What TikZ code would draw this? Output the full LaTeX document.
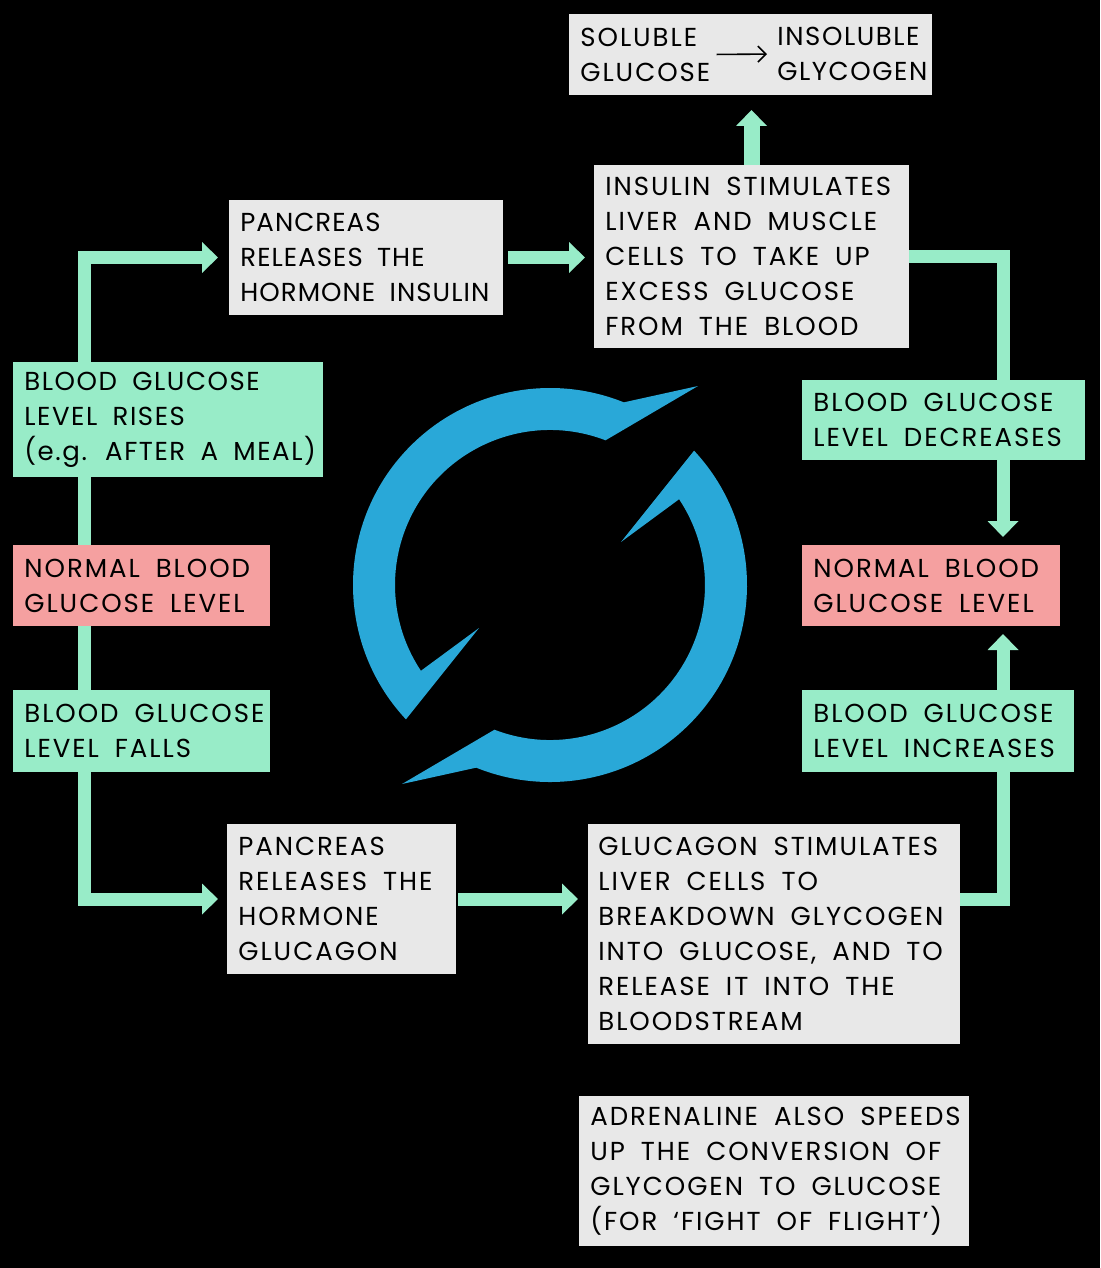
\documentclass[tikz,border=0pt]{standalone}
\usepackage{fontspec}
\setmainfont{Poppins}[WordSpace=1.8, LetterSpace=7.5]
\usetikzlibrary{arrows.meta}
\definecolor{boxgray}{RGB}{232,232,232}
\definecolor{mint}{RGB}{152,236,200}
\definecolor{pinkb}{RGB}{245,160,160}
\definecolor{cyc}{RGB}{41,168,216}
\begin{document}
\begin{tikzpicture}[x=0.5pt,y=-0.5pt,
  boxbase/.style={anchor=north west, inner sep=0pt, outer sep=0pt},
  graybox/.style={boxbase, fill=boxgray},
  greenbox/.style={boxbase, fill=mint},
  pinkbox/.style={boxbase, fill=pinkb},
  txt/.style={anchor=west, inner sep=0pt, align=left, font=\fontsize{13}{17.5}\selectfont, text=black},
  tight/.style={font=\fontsize{13}{17.5}\selectfont\addfontfeatures{LetterSpace=#1}},
  conn/.style={draw=mint, line width=6.5pt},
  arr/.style={conn, -{Triangle[width=15pt,length=8pt]}},
]
\fill[black] (0,0) rectangle (1100,1268);
\useasboundingbox (0,0) rectangle (1100,1268);

% boxes
\node[graybox, minimum width=181.5pt, minimum height=40.5pt] (top) at (569,14) {};
\node[graybox, minimum width=157.5pt, minimum height=91.5pt] (insI) at (594,165) {};
\node[graybox, minimum width=137pt, minimum height=57.5pt] (panI) at (229,200) {};
\node[greenbox, minimum width=155pt, minimum height=57.5pt] (rises) at (13,362) {};
\node[pinkbox, minimum width=128.5pt, minimum height=40.5pt] (normL) at (13,545) {};
\node[greenbox, minimum width=128.5pt, minimum height=41pt] (falls) at (13,690) {};
\node[graybox, minimum width=114.5pt, minimum height=75pt] (panG) at (227,824) {};
\node[graybox, minimum width=186pt, minimum height=110pt] (gluc) at (588,824) {};
\node[greenbox, minimum width=136pt, minimum height=41pt] (inc) at (802,690) {};
\node[pinkbox, minimum width=129pt, minimum height=40.5pt] (normR) at (802,545) {};
\node[greenbox, minimum width=141.5pt, minimum height=40pt] (dec) at (802,380) {};
\node[graybox, minimum width=195pt, minimum height=75pt] (adr) at (579,1096) {};

% texts
\node[txt] (sol) at ([xshift=5.5pt]top.west) {SOLUBLE\\GLUCOSE};
\node[txt, tight=6] (insol) at (777,54) {INSOLUBLE\\GLYCOGEN};
\draw[line width=0.8pt, -{Straight Barb[length=4pt,width=8pt]}, shorten <=3pt, shorten >=5pt] (sol.east) -- (insol.west);
\node[txt] (tinsI) at ([xshift=5.5pt]insI.west) {INSULIN STIMULATES\\LIVER AND MUSCLE\\CELLS TO TAKE UP\\EXCESS GLUCOSE\\FROM THE BLOOD};
\node[txt, tight=4] (tpanI) at ([xshift=5.5pt]panI.west) {PANCREAS\\RELEASES THE\\HORMONE INSULIN};
\node[txt, tight=6] (trises) at ([xshift=5.5pt]rises.west) {BLOOD GLUCOSE\\LEVEL RISES\\(e.g. AFTER A MEAL)};
\node[txt] (tnormL) at ([xshift=5.5pt]normL.west) {NORMAL BLOOD\\GLUCOSE LEVEL};
\node[txt] (tfalls) at ([xshift=5.5pt]falls.west) {BLOOD GLUCOSE\\LEVEL FALLS};
\node[txt] (tpanG) at ([xshift=5.5pt]panG.west) {PANCREAS\\RELEASES THE\\HORMONE\\GLUCAGON};
\node[txt] (tgluc) at ([xshift=5pt]gluc.west) {GLUCAGON STIMULATES\\LIVER CELLS TO\\BREAKDOWN GLYCOGEN\\INTO GLUCOSE, AND TO\\RELEASE IT INTO THE\\BLOODSTREAM};
\node[txt] (tinc) at ([xshift=5.5pt]inc.west) {BLOOD GLUCOSE\\LEVEL INCREASES};
\node[txt] (tnormR) at ([xshift=5.5pt]normR.west) {NORMAL BLOOD\\GLUCOSE LEVEL};
\node[txt] (tdec) at ([xshift=5.5pt]dec.west) {BLOOD GLUCOSE\\LEVEL DECREASES};
\node[txt] (tadr) at ([xshift=5.5pt]adr.west) {ADRENALINE ALSO SPEEDS\\UP THE CONVERSION OF\\GLYCOGEN TO GLUCOSE\\(FOR ‘FIGHT OF FLIGHT’)};

% connectors
\coordinate (L) at (84,0);
\coordinate (R) at (1003,0);
\draw[arr, shorten >=5.5pt] (rises.north -| L) |- (panI.west);
\draw[arr, shorten <=2.5pt, shorten >=4.5pt] (panI.east) -- (panI.east -| insI.west);
\draw[arr, line width=8pt, shorten >=7.5pt] (insI.north) -- (insI.north |- top.south);
\draw[conn] (insI.east) -| (dec.north -| R);
\draw[arr, shorten >=4pt] (dec.south -| R) -- (normR.north -| R);
\draw[arr, shorten >=4pt] (inc.north -| R) -- (normR.south -| R);
\draw[conn] (rises.south -| L) -- (normL.north -| L);
\draw[conn] (normL.south -| L) -- (falls.north -| L);
\draw[arr, shorten >=4.5pt] (falls.south -| L) |- (panG.west);
\draw[arr, shorten <=1pt, shorten >=5pt] (panG.east) -- (panG.east -| gluc.west);
\draw[conn] (panG.east -| gluc.east) -| (inc.south -| R);

% cycle symbol
\begin{scope}[shift={(550,585)}, yscale=-1]
  \foreach \r in {0,180}{
    \fill[cyc, rotate=\r] (223:197) arc[start angle=223, end angle=68, radius=197]
      -- (148,199) -- (69:155) arc[start angle=69, end angle=213.6, radius=155]
      -- (-71,-43) -- cycle;
  }
\end{scope}
\end{tikzpicture}
\end{document}
